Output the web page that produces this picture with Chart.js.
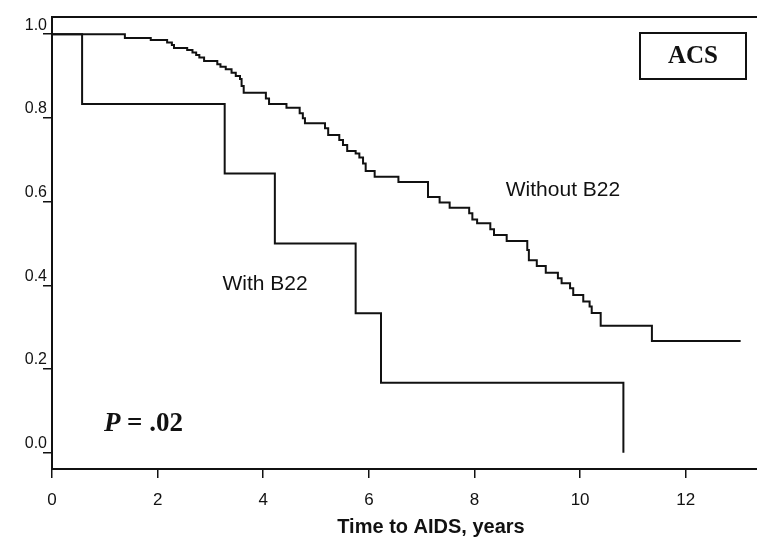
<!DOCTYPE html>
<html>
<head>
<meta charset="utf-8">
<script src="https://cdn.jsdelivr.net/npm/chart.js@4.4.0/dist/chart.umd.min.js"></script>
<style>
  html, body { margin: 0; padding: 0; background: #fff; }
  #wrap { width: 757px; height: 540px; }
</style>
</head>
<body>
<div id="wrap"><canvas id="kmChart" width="757" height="540"></canvas></div>
<script>
// Kaplan-Meier curves, years vs. proportion free of AIDS
const withYears = [0, 0.57, 3.27, 4.22, 5.75, 6.23, 10.82];
const withSurv = [1, 0.833, 0.667, 0.5, 0.333, 0.167, 0];

const withoutYears = [0, 1.38, 1.87, 2.18, 2.27, 2.31, 2.56, 2.66, 2.73, 2.79, 2.88, 3.13, 3.19, 3.29, 3.40,
  3.48, 3.56, 3.59, 3.63, 4.05, 4.11, 4.44, 4.69, 4.75, 4.79, 5.17, 5.23, 5.44, 5.51, 5.59, 5.75, 5.82,
  5.89, 5.94, 6.11, 6.56, 7.12, 7.34, 7.53, 7.90, 7.96, 8.05, 8.30, 8.37, 8.61, 9.00, 9.03, 9.18, 9.35,
  9.58, 9.65, 9.81, 9.87, 10.06, 10.18, 10.22, 10.39, 11.36, 13.04];
const withoutSurv = [1, 0.991, 0.986, 0.980, 0.974, 0.967, 0.962, 0.956, 0.950, 0.944, 0.936, 0.928, 0.922,
  0.916, 0.908, 0.900, 0.893, 0.876, 0.860, 0.846, 0.833, 0.824, 0.811, 0.799, 0.787, 0.775, 0.759, 0.747,
  0.735, 0.721, 0.715, 0.705, 0.691, 0.673, 0.659, 0.647, 0.611, 0.598, 0.585, 0.572, 0.557, 0.548, 0.534,
  0.520, 0.506, 0.484, 0.460, 0.446, 0.430, 0.417, 0.405, 0.393, 0.377, 0.361, 0.349, 0.334, 0.303, 0.267, 0.267];

const xTicks = [0, 2, 4, 6, 8, 10, 12];
const yTicks = [0, 0.2, 0.4, 0.6, 0.8, 1.0];

const ink = '#111';
const sans = '"Liberation Sans", Arial, sans-serif';
const serif = '"Liberation Serif", "Times New Roman", serif';

function toPoints(xs, ys) {
  return xs.map((x, i) => ({ x: x, y: ys[i] }));
}

// labels, ACS box, p-value and axis title
const annotations = {
  id: 'annotations',
  afterDraw(chart) {
    const ctx = chart.ctx;
    ctx.save();
    ctx.fillStyle = ink;
    ctx.textAlign = 'center';
    ctx.textBaseline = 'middle';

    ctx.font = '21px ' + sans;
    ctx.fillText('With B22', 265, 284);
    ctx.fillText('Without B22', 563, 190);

    ctx.strokeStyle = ink;
    ctx.lineWidth = 2;
    ctx.strokeRect(640, 33, 106, 46);
    ctx.font = 'bold 25px ' + serif;
    ctx.fillText('ACS', 693, 57);

    ctx.textAlign = 'left';
    ctx.textBaseline = 'alphabetic';
    ctx.font = 'italic bold 27px ' + serif;
    ctx.fillText('P', 104, 431);
    ctx.font = 'bold 27px ' + serif;
    ctx.fillText('= .02', 127, 431);

    ctx.textAlign = 'center';
    ctx.textBaseline = 'middle';
    ctx.font = 'bold 20px ' + sans;
    ctx.fillText('Time to AIDS, years', 431, 527);
    ctx.restore();
  }
};

new Chart(document.getElementById('kmChart'), {
  type: 'line',
  data: {
    datasets: [
      {
        label: 'Without B22',
        data: toPoints(withoutYears, withoutSurv),
        stepped: true,
        borderColor: ink,
        borderWidth: 2,
        pointRadius: 0,
        fill: false
      },
      {
        label: 'With B22',
        data: toPoints(withYears, withSurv),
        stepped: true,
        borderColor: ink,
        borderWidth: 2,
        pointRadius: 0,
        fill: false
      }
    ]
  },
  options: {
    responsive: false,
    animation: false,
    layout: { padding: 0 },
    plugins: {
      legend: { display: false },
      tooltip: { enabled: false }
    },
    scales: {
      x: {
        type: 'linear',
        position: 'bottom',
        min: 0,
        max: 13.35,
        afterFit: s => { s.height = 71; },
        afterBuildTicks: s => { s.ticks = xTicks.map(v => ({ value: v })); },
        grid: { drawOnChartArea: false, drawTicks: true, tickLength: 9, color: ink, lineWidth: 1.5 },
        border: { color: ink, width: 2 },
        ticks: {
          font: { family: sans, size: 17 },
          color: ink,
          padding: 12,
          maxRotation: 0,
          autoSkip: false,
          callback: v => String(v)
        }
      },
      top: {
        type: 'linear',
        position: 'top',
        min: 0,
        max: 1,
        afterFit: s => { s.height = 17; },
        afterBuildTicks: s => { s.ticks = []; },
        grid: { display: false },
        border: { color: ink, width: 2 },
        ticks: { display: false }
      },
      y: {
        type: 'linear',
        min: -0.039,
        max: 1.041,
        afterFit: s => { s.width = 52; },
        afterBuildTicks: s => { s.ticks = yTicks.map(v => ({ value: v })); },
        grid: { drawOnChartArea: false, drawTicks: true, tickLength: 9, color: ink, lineWidth: 1.5 },
        border: { color: ink, width: 2 },
        ticks: {
          font: { family: sans, size: 16 },
          color: ink,
          padding: -4,
          labelOffset: -9,
          autoSkip: false,
          callback: v => v.toFixed(1)
        }
      }
    }
  },
  plugins: [annotations]
});
</script>
</body>
</html>
